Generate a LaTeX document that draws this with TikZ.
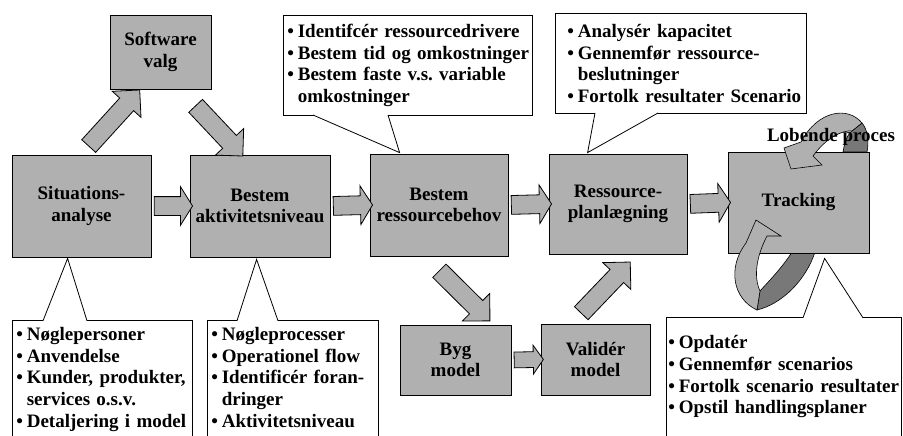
\documentclass[tikz,border=0pt]{standalone}
\usepackage{fontspec}
\setmainfont{Liberation Serif}
\usetikzlibrary{shapes.arrows,positioning,calc}

\definecolor{boxgray}{RGB}{176,176,176}
\definecolor{backgray}{RGB}{120,120,120}

% bullet lines for the callouts
\newcommand{\bul}[1]{\mbox{\makebox[0.55em][l]{\textbullet}#1}}
\newcommand{\cont}[1]{\mbox{\hspace*{0.55em}#1}}
% fat arrow between two points
\newcommand{\fatarrow}[4][]{%
  \path let \p1=(#3), \p2=(#4), \n1={atan2(\y2-\y1,\x2-\x1)}, \n2={veclen(\x2-\x1,\y2-\y1)} in
    node[blockarrow,#1,minimum height=\n2,rotate=\n1] (#2) at ($(#3)!0.5!(#4)$) {};}

\tikzset{
  procbox/.style={draw, fill=boxgray, line width=0.8pt, align=center, inner sep=2pt},
  callout/.style={draw, fill=white, line width=0.8pt, align=left, anchor=north west, inner xsep=4pt},
  pointer/.style={draw, fill=white, line width=0.8pt},
  blockarrow/.style={single arrow, draw, fill=boxgray, line width=0.8pt, inner xsep=0pt, inner ysep=9pt,
    minimum width=38pt, single arrow head extend=10pt, single arrow tip angle=90},
  flatarrow/.style={single arrow tip angle=116},
  smallarrow/.style={inner ysep=7.5pt, minimum width=28pt, single arrow head extend=6.5pt, single arrow tip angle=110},
  ribbon/.style={draw, line width=0.6pt, fill=boxgray},
  ribbonback/.style={draw, line width=0.6pt, fill=backgray}
}

\begin{document}
\begin{tikzpicture}[x=1pt, y=-1pt, font=\fontsize{19}{21.7}\selectfont\bfseries]
    \fill[white] (0,0) rectangle (903,436);
    \useasboundingbox (0,0) rectangle (903,436);

    % Callouts
    \node[callout, text width=241pt, minimum height=100pt] (c1) at (283,15)
        {\bul{Identifcér ressourcedrivere}\\
         \bul{Bestem tid og omkostninger}\\
         \bul{Bestem faste v.s.\ variable}\\
         \cont{omkostninger}};
    \node[callout, inner xsep=12pt, text width=227pt, minimum height=100pt] (c2) at (555,13)
        {\bul{Analysér kapacitet}\\
         \bul{Gennemfør ressource-}\\
         \cont{beslutninger}\\
         \bul{Fortolk resultater Scenario}};
    \node[callout, inner ysep=7pt, text width=172pt, text depth=130pt] (c3) at (12,320)
        {\bul{Nøglepersoner}\\
         \bul{Anvendelse}\\
         \bul{Kunder, produkter,}\\
         \cont{services o.s.v.}\\
         \bul{Detaljering i model}};
    \node[callout, inner ysep=7pt, text width=163pt, text depth=130pt] (c4) at (207,320)
        {\bul{Nøgleprocesser}\\
         \bul{Operationel flow}\\
         \bul{Identificér foran-}\\
         \cont{dringer}\\
         \bul{Aktivitetsniveau}};
    \node[callout, inner xsep=2pt, inner ysep=18pt, text width=231pt, text depth=130pt] (c5) at (666,317)
        {\bul{Opdatér}\\
         \bul{Gennemfør scenarios}\\
         \bul{Fortolk scenario resultater}\\
         \bul{Opstil handlingsplaner}};

    % Back parts of the loop arrows
    \filldraw[ribbonback] (843,152) .. controls (845,140) and (848,134) .. (852,131) -- (862,123)
        .. controls (868,130) and (869,142) .. (867,152) -- cycle;
    \filldraw[ribbonback] (792,252) .. controls (782,268) and (768,282) .. (760,291) -- (757,310)
        .. controls (782,304) and (806,280) .. (815,252) -- cycle;

    % Boxes
    \node[procbox, minimum width=101pt, minimum height=74pt] (soft) at (160.5,52) {Software\\valg};
    \node[procbox, minimum width=139pt, minimum height=102pt] (sit) at (81.5,206) {Situations-\\analyse};
    \node[procbox, minimum width=140pt, minimum height=102pt] (akt) at (260,206) {Bestem\\aktivitetsniveau};
    \node[procbox, minimum width=138pt, minimum height=102pt] (beh) at (439,205) {Bestem\\ressourcebehov};
    \node[procbox, minimum width=138pt, minimum height=100pt] (plan) at (618,204) {Ressource-\\planlægning};
    \node[procbox, minimum width=141pt, minimum height=101pt] (track) at (798.5,202.5) {Tracking};
    \node[procbox, minimum width=111pt, minimum height=70pt] (byg) at (455.5,360) {Byg\\model};
    \node[procbox, minimum width=109pt, minimum height=71pt] (val) at (595.5,359.5) {Validér\\model};

    % Callout pointers
    \path[pointer] ($(c1.south west)+(30,-0.8)$) -- ($(beh.north west)+(30,-1)$) -- ($(c1.south west)+(105,-0.8)$);
    \path[pointer] ($(c2.south west)+(40,-0.8)$) -- ($(plan.north west)+(39,-1)$) -- ($(c2.south west)+(103,-0.8)$);
    \path[pointer] ($(c3.north west)+(31,0.8)$) -- ($(sit.south west)+(56,1)$) -- ($(c3.north west)+(75,0.8)$);
    \path[pointer] ($(c4.north west)+(30,0.8)$) -- ($(akt.south west)+(67,2)$) -- ($(c4.north west)+(71,0.8)$);
    \path[pointer] ($(c5.north west)+(137,0.8)$) -- ($(track.south west)+(97,5)$) -- ($(c5.north west)+(197,0.8)$);

    % Fat arrows
    \coordinate (t1) at ($(sit.north)+(4,-5)$);
    \coordinate (h1) at ($(soft.south west)+(27,4)$);
    \coordinate (t2) at ($(soft.south east)+(-19,13)$);
    \coordinate (h2) at ($(akt.north west)+(50,-2)$);
    \coordinate (t3) at ($(beh.south)+(-3,11)$);
    \coordinate (h3) at ($(byg.north west)+(87,-7)$);
    \coordinate (t4) at ($(val.north)+(-17.5,-7)$);
    \coordinate (h4) at ($(plan.south)+(9,11)$);
    \fatarrow{sitsoft}{t1}{h1}
    \fatarrow{softakt}{t2}{h2}
    \fatarrow{behbyg}{t3}{h3}
    \fatarrow{valplan}{t4}{h4}
    \fatarrow[flatarrow]{sitakt}{sit.east}{akt.west}
    \fatarrow[flatarrow]{aktbeh}{akt.east}{beh.west}
    \fatarrow[flatarrow]{behplan}{beh.east}{plan.west}
    \fatarrow[flatarrow]{plantrack}{plan.east}{track.west}
    \fatarrow[smallarrow]{bygval}{byg.east}{val.west}

    % Front parts of the loop arrows
    \filldraw[ribbon] (862,123) .. controls (848,106) and (818,110) .. (801,142) -- (784,148) -- (791,169)
        -- (822,165) -- (813,156) .. controls (826,138) and (842,130) .. (852,131) -- cycle;
    \filldraw[ribbon] (757,310) .. controls (733,299) and (727,268) .. (746,243) -- (756,220) -- (781,236)
        -- (767,236) .. controls (757,255) and (753,276) .. (760,291) -- cycle;

    \node (proc) at (831,137) {Lobende proces};
\end{tikzpicture}
\end{document}
